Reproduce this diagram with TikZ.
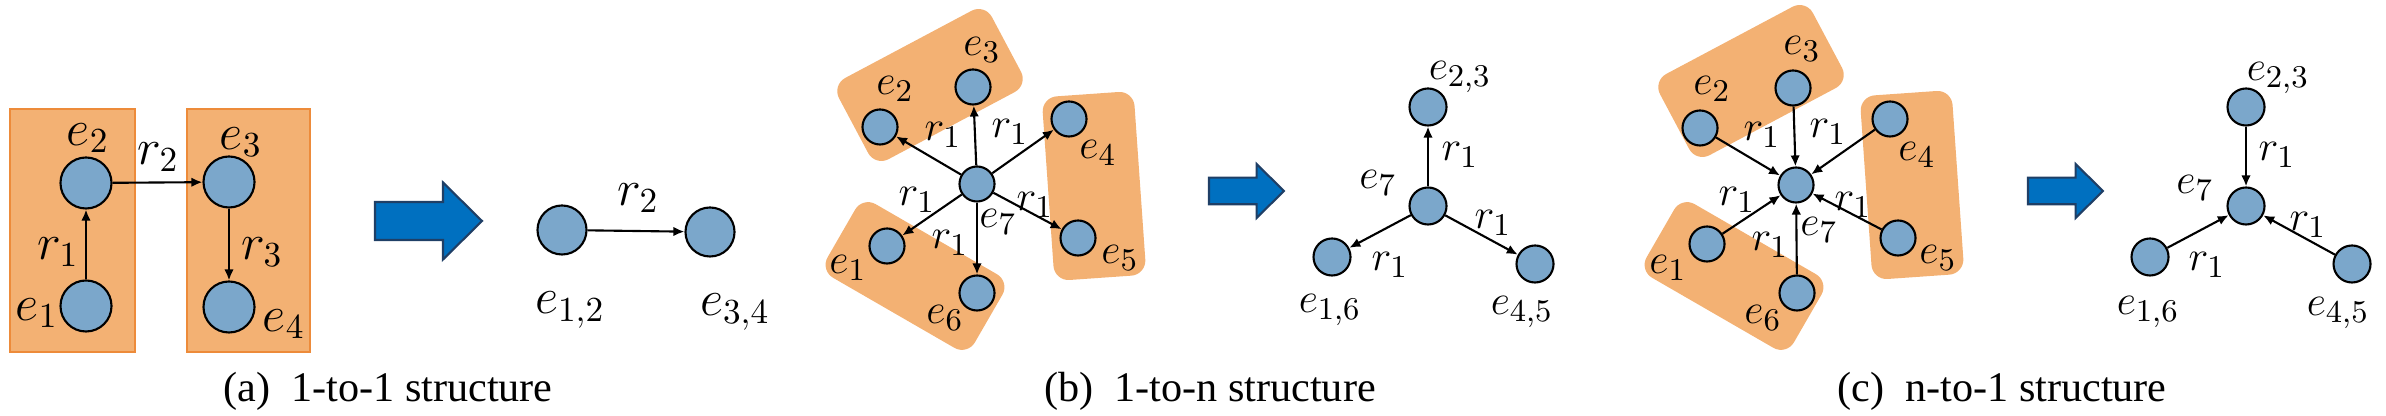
\documentclass[tikz,border=0pt]{standalone}
\usepackage{fontspec}
\usetikzlibrary{arrows.meta,calc}
\newfontfamily\capfont{Liberation Serif}

\definecolor{entblue}{HTML}{7BA7CB}
\definecolor{grporange}{HTML}{F3B173}
\definecolor{grpedge}{HTML}{ED8B3A}
\definecolor{arrowblue}{HTML}{0070C0}
\definecolor{arrowedge}{HTML}{1F3F66}

\begin{document}
\begin{tikzpicture}[
    x=0.01cm, y=-0.01cm,
    entity/.style={circle, draw, fill=entblue, line width=0.6pt, inner sep=0pt, minimum size=#1},
    entity/.default=0.35cm,
    lbl/.style={inner sep=0pt, font=\fontsize{13}{15}\selectfont},
    biglbl/.style={inner sep=0pt, font=\fontsize{14.5}{17}\selectfont},
    block/.style={rectangle, draw=grpedge, fill=grporange, line width=0.6pt, inner sep=0pt},
    grp/.style={rectangle, fill=grporange, inner sep=0pt, rounded corners=0.15cm},
    rel/.style={-{Latex[length=1.1mm,width=0.95mm]}, line width=0.6pt},
    caption/.style={inner sep=0pt, font=\capfont\fontsize{12}{14}\selectfont},
    bigarrow/.pic={
      \draw[fill=arrowblue, draw=arrowedge, line width=0.6pt]
        (0,-19) -- (68,-19) -- (68,-38.5) -- (107,0) -- (68,38.5) -- (68,19) -- (0,19) -- cycle;
    }
  ]
  \useasboundingbox (0,0) rectangle (2386,416);

  % (a) 1-to-1
  \node[block, minimum width=1.25cm, minimum height=2.43cm] (boxL) at (72.5,230.5) {};
  \node[block, minimum width=1.23cm, minimum height=2.43cm] (boxR) at (248.5,230.5) {};
  \node[entity=0.51cm] (a1) at (86,306) {};
  \node[entity=0.51cm] (a2) at (86,183) {};
  \node[entity=0.51cm] (a3) at (229,182) {};
  \node[entity=0.51cm] (a4) at (229,307) {};
  \node[biglbl] (la1) at (37,313) {$e_1$};
  \node[biglbl] (la2) at (88,138) {$e_2$};
  \node[biglbl] (la3) at (241,142) {$e_3$};
  \node[biglbl] (la4) at (284,324) {$e_4$};
  \node[biglbl] (lar1) at (58,252) {$r_1$};
  \node[biglbl] (lar2) at (158,157) {$r_2$};
  \node[biglbl] (lar3) at (262,252) {$r_3$};
  \draw[rel] (a1) -- (a2);
  \draw[rel] (a2) -- (a3);
  \draw[rel] (a3) -- (a4);

  \pic (arrA) at (375,221) {bigarrow};

  \node[entity=0.49cm] (a12) at (562,230) {};
  \node[entity=0.49cm] (a34) at (710,232) {};
  \node[biglbl] (la12) at (570,310) {$e_{1,2}$};
  \node[biglbl] (la34) at (735,312) {$e_{3,4}$};
  \node[biglbl] (lar12) at (638,198) {$r_2$};
  \draw[rel] (a12) -- (a34);

  \node[caption] (capA) at (388,391) {(a)\enspace 1-to-1 structure};

  % (b) 1-to-n
  \node[grp, minimum width=1.73cm, minimum height=0.92cm, rotate=28] (bg23) at (930,85) {};
  \node[grp, minimum width=0.92cm, minimum height=1.84cm, rotate=4] (bg45) at (1094,186) {};
  \node[grp, minimum width=1.70cm, minimum height=0.85cm, rotate=-30] (bg16) at (915,276) {};
  \node[entity] (b7) at (977,184) {};
  \node[entity] (b1) at (887,246) {};
  \node[entity] (b2) at (880,127) {};
  \node[entity] (b3) at (973,87) {};
  \node[entity] (b4) at (1069,119) {};
  \node[entity] (b5) at (1078,238) {};
  \node[entity] (b6) at (977,293) {};
  \node[lbl] (lb1) at (848,268) {$e_1$};
  \node[lbl] (lb2) at (895,89) {$e_2$};
  \node[lbl] (lb3) at (982,50) {$e_3$};
  \node[lbl] (lb4) at (1098,153) {$e_4$};
  \node[lbl] (lb5) at (1120,258) {$e_5$};
  \node[lbl] (lb6) at (945,318) {$e_6$};
  \node[lbl] (lb7) at (998,222) {$e_7$};
  \node[lbl] (lbr2) at (943,135) {$r_1$};
  \node[lbl] (lbr4) at (1010,132) {$r_1$};
  \node[lbl] (lbr1) at (917,200) {$r_1$};
  \node[lbl] (lbr5) at (1035,205) {$r_1$};
  \node[lbl] (lbr6) at (950,243) {$r_1$};
  \draw[rel] (b7) -- (b1);
  \draw[rel] (b7) -- (b2);
  \draw[rel] (b7) -- (b3);
  \draw[rel] (b7) -- (b4);
  \draw[rel] (b7) -- (b5);
  \draw[rel] (b7) -- (b6);

  \pic[scale=0.7] (arrB) at (1209,191) {bigarrow};

  \node[entity=0.37cm] (bm7) at (1428,206) {};
  \node[entity=0.37cm] (bm23) at (1428,107) {};
  \node[entity=0.37cm] (bm16) at (1332,257) {};
  \node[entity=0.37cm] (bm45) at (1535,264) {};
  \node[lbl] (lbm23) at (1460,77) {$e_{2,3}$};
  \node[lbl] (lbm7) at (1378,183) {$e_7$};
  \node[lbl] (lbm16) at (1330,310) {$e_{1,6}$};
  \node[lbl] (lbm45) at (1522,312) {$e_{4,5}$};
  \node[lbl] (lbmr23) at (1460,155) {$r_1$};
  \node[lbl] (lbmr45) at (1493,223) {$r_1$};
  \node[lbl] (lbmr16) at (1390,265) {$r_1$};
  \draw[rel] (bm7) -- (bm23);
  \draw[rel] (bm7) -- (bm16);
  \draw[rel] (bm7) -- (bm45);

  \node[caption] (capB) at (1210,391) {(b)\enspace 1-to-n structure};

  % (c) n-to-1
  \node[grp, minimum width=1.73cm, minimum height=0.92cm, rotate=28] (cg23) at (1751,81) {};
  \node[grp, minimum width=0.92cm, minimum height=1.84cm, rotate=4] (cg45) at (1912,185) {};
  \node[grp, minimum width=1.70cm, minimum height=0.85cm, rotate=-30] (cg16) at (1734,276) {};
  \node[entity] (c7) at (1796,185) {};
  \node[entity] (c1) at (1707,244) {};
  \node[entity] (c2) at (1700,128) {};
  \node[entity] (c3) at (1793,88) {};
  \node[entity] (c4) at (1890,119) {};
  \node[entity] (c5) at (1898,238) {};
  \node[entity] (c6) at (1797,293) {};
  \node[lbl] (lc1) at (1668,268) {$e_1$};
  \node[lbl] (lc2) at (1712,89) {$e_2$};
  \node[lbl] (lc3) at (1802,49) {$e_3$};
  \node[lbl] (lc4) at (1917,155) {$e_4$};
  \node[lbl] (lc5) at (1938,258) {$e_5$};
  \node[lbl] (lc6) at (1763,318) {$e_6$};
  \node[lbl] (lc7) at (1819,230) {$e_7$};
  \node[lbl] (lcr2) at (1762,135) {$r_1$};
  \node[lbl] (lcr4) at (1828,132) {$r_1$};
  \node[lbl] (lcr1) at (1737,200) {$r_1$};
  \node[lbl] (lcr5) at (1853,205) {$r_1$};
  \node[lbl] (lcr6) at (1770,245) {$r_1$};
  \draw[rel] (c1) -- (c7);
  \draw[rel] (c2) -- (c7);
  \draw[rel] (c3) -- (c7);
  \draw[rel] (c4) -- (c7);
  \draw[rel] (c5) -- (c7);
  \draw[rel] (c6) -- (c7);

  \pic[scale=0.7] (arrC) at (2028,191) {bigarrow};

  \node[entity=0.37cm] (cm7) at (2246,206) {};
  \node[entity=0.37cm] (cm23) at (2246,107) {};
  \node[entity=0.37cm] (cm16) at (2150,257) {};
  \node[entity=0.37cm] (cm45) at (2352,264) {};
  \node[lbl] (lcm23) at (2278,78) {$e_{2,3}$};
  \node[lbl] (lcm7) at (2195,188) {$e_7$};
  \node[lbl] (lcm16) at (2148,312) {$e_{1,6}$};
  \node[lbl] (lcm45) at (2338,313) {$e_{4,5}$};
  \node[lbl] (lcmr23) at (2277,155) {$r_1$};
  \node[lbl] (lcmr45) at (2308,225) {$r_1$};
  \node[lbl] (lcmr16) at (2207,265) {$r_1$};
  \draw[rel] (cm23) -- (cm7);
  \draw[rel] (cm16) -- (cm7);
  \draw[rel] (cm45) -- (cm7);

  \node[caption] (capC) at (2002,391) {(c)\enspace n-to-1 structure};
\end{tikzpicture}
\end{document}
